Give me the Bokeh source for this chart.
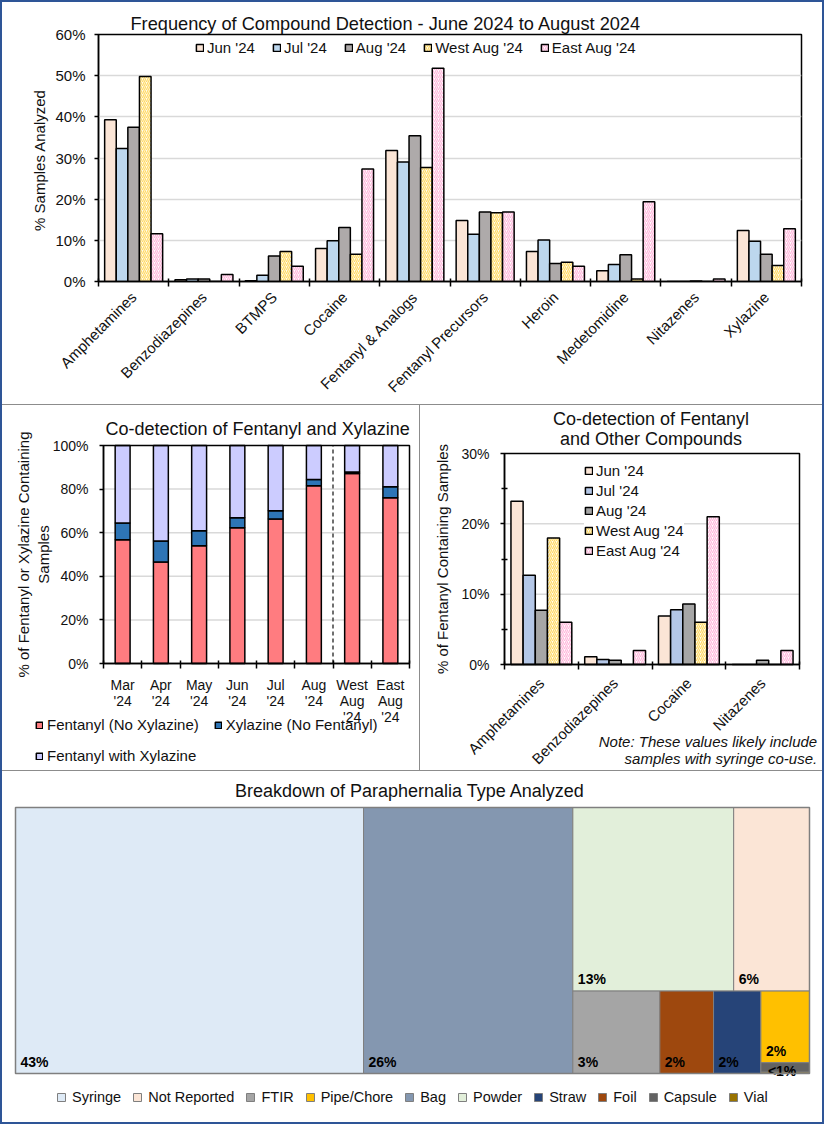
import math
from bokeh.plotting import figure
from bokeh.models import (ColumnDataSource, Range1d, FixedTicker, PrintfTickFormatter,
                          Legend, LegendItem, Label, Div, BoxAnnotation)
from bokeh.layouts import row, column
from bokeh.core.properties import value
from bokeh.embed import file_html
from bokeh.resources import INLINE

FONT = "Liberation Sans"
TXT = "#111111"

# ---------------- data ----------------
compounds = ["Amphetamines", "Benzodiazepines", "BTMPS", "Cocaine", "Fentanyl & Analogs",
             "Fentanyl Precursors", "Heroin", "Medetomidine", "Nitazenes", "Xylazine"]
series_names = ["Jun '24", "Jul '24", "Aug '24", "West Aug '24", "East Aug '24"]
freq_jun = [39.3, 0.4, 0.2, 8.0, 31.8, 14.8, 7.3, 2.6, 0.0, 12.4]
freq_jul = [32.3, 0.6, 1.5, 9.9, 29.0, 11.5, 10.1, 4.1, 0.0, 9.8]
freq_aug = [37.5, 0.6, 6.2, 13.1, 35.4, 16.9, 4.4, 6.5, 0.1, 6.6]
freq_west = [49.8, 0.0, 7.3, 6.6, 27.7, 16.7, 4.7, 0.6, 0.0, 3.9]
freq_east = [11.6, 1.7, 3.7, 27.3, 51.8, 16.9, 3.7, 19.4, 0.6, 12.8]

months = ["Mar\n'24", "Apr\n'24", "May\n'24", "Jun\n'24", "Jul\n'24", "Aug\n'24",
          "West\nAug\n'24", "East\nAug\n'24"]
fent_only = [56.8, 46.6, 54.0, 62.3, 66.3, 81.5, 87.2, 76.0]
xyl_only = [7.6, 9.6, 6.9, 4.6, 3.8, 2.9, 0.7, 5.1]
fent_xyl = [35.6, 43.8, 39.1, 33.1, 29.9, 15.6, 12.1, 18.9]
stack_names = ["Fentanyl (No Xylazine)", "Xylazine (No Fentanyl)", "Fentanyl with Xylazine"]

co_compounds = ["Amphetamines", "Benzodiazepines", "Cocaine", "Nitazenes"]
co_jun = [23.2, 1.1, 6.9, 0.0]
co_jul = [12.7, 0.7, 7.8, 0.0]
co_aug = [7.7, 0.6, 8.6, 0.6]
co_west = [18.0, 0.0, 6.0, 0.0]
co_east = [6.0, 2.0, 21.0, 2.0]
co_note = ["Note: These values likely include", "samples with syringe co-use."]

para_types = ["Syringe", "Bag", "Powder", "Not Reported", "FTIR", "Foil", "Straw",
              "Pipe/Chore", "Capsule", "Vial"]
para_share = [43.9, 26.4, 14.0, 6.6, 3.4, 2.1, 1.85, 1.65, 0.22, 0.03]
para_labels = ["43%", "26%", "13%", "6%", "3%", "2%", "2%", "2%", "<1%", ""]
para_legend_order = ["Syringe", "Not Reported", "FTIR", "Pipe/Chore", "Bag", "Powder",
                     "Straw", "Foil", "Capsule", "Vial"]

# ---------------- styles ----------------
SER_FILL = ["#FBE5D6", "#BDD7EE", "#AEAAAA", "#FFFDF0", "#FFFFFF"]
SER_FILL2 = ["#FBE5D6", "#B4C7E7", "#A6A6A6", "#FFFDF0", "#FFFFFF"]
SER_HATCH = [None, None, None, "/", "/"]
SER_HATCH_COLOR = ["black", "black", "black", "#FFD966", "#FFB7DB"]
STACK_FILL = ["#FF7C80", "#2E75B6", "#CCCCFF"]
PARA_FILL = ["#DEEAF6", "#8497B0", "#E2EFDA", "#FBE5D6", "#A5A5A5", "#9E480E", "#264478",
             "#FFC000", "#636363", "#997300"]
GRID = "#D9D9D9"
SEP = "#8C8C8C"
BLUE = "#2E5597"


class Frame:
    """Maps figure pixels to data for a frame filling the whole figure, such that the
    plot box (left, top, right, bottom in figure pixels) shows xlim x ylim."""

    def __init__(self, fig_w, fig_h, box, xlim, ylim):
        l, t, r, b = box
        self.xs = (r - l) / (xlim[1] - xlim[0])
        self.ys = (b - t) / (ylim[1] - ylim[0])
        self.x0 = xlim[0] - l / self.xs
        self.x1 = xlim[1] + (fig_w - r) / self.xs
        self.y1 = ylim[1] + t / self.ys
        self.y0 = ylim[0] - (fig_h - b) / self.ys

    def x(self, px):
        return self.x0 + px / self.xs

    def y(self, py):
        return self.y1 - py / self.ys

    def ranges(self):
        return Range1d(self.x0, self.x1), Range1d(self.y0, self.y1)


def style_axes(p):
    for ax in p.axis:
        ax.axis_line_color = "black"
        ax.axis_line_width = 1.5
        ax.major_label_text_font = FONT
        ax.major_label_text_color = TXT
        ax.axis_label_text_font = FONT
        ax.axis_label_text_font_style = "normal"
        ax.axis_label_text_color = TXT
        ax.major_tick_line_color = "black"
        ax.major_tick_line_width = 1.5
        ax.minor_tick_line_color = None


def cat_xaxis(ax, labels, angle, standoff, size):
    n = len(labels)
    ax.ticker = FixedTicker(ticks=list(range(1, n + 1)),
                            minor_ticks=[i + 0.5 for i in range(0, n + 1)])
    ax.major_label_overrides = {i + 1: lab for i, lab in enumerate(labels)}
    ax.major_label_orientation = angle
    ax.major_tick_line_color = None
    ax.major_tick_in = 0
    ax.major_tick_out = 0
    ax.minor_tick_line_color = "black"
    ax.minor_tick_line_width = 1.5
    ax.minor_tick_in = 3
    ax.minor_tick_out = 5
    ax.major_label_standoff = standoff
    ax.major_label_text_font_size = size


def pct_yaxis(ax, ticks, standoff, size, minor=None):
    ax.ticker = FixedTicker(ticks=ticks, minor_ticks=minor or [])
    ax.formatter = PrintfTickFormatter(format="%d%%")
    ax.major_tick_in = 0
    ax.major_tick_out = 4
    ax.major_label_standoff = standoff
    ax.major_label_text_font_size = size
    if minor:
        ax.minor_tick_line_color = "black"
        ax.minor_tick_line_width = 1.5
        ax.minor_tick_in = 3
        ax.minor_tick_out = 3


def grouped(p, series, fills, width=0.165):
    rs = []
    for j, vals in enumerate(series):
        xs = [i + 1 + (j - 2) * width for i in range(len(vals))]
        r = p.vbar(x=xs, top=vals, bottom=0, width=width, fill_color=fills[j],
                   line_color="black", line_width=1.5,
                   hatch_pattern=SER_HATCH[j], hatch_color=SER_HATCH_COLOR[j],
                   hatch_scale=4, hatch_weight=1.2)
        rs.append(r)
    return rs


def legend_box(items, loc, glyph, standoff, spacing, size, orientation="horizontal",
               padding=0, bg=None):
    lg = Legend(items=items, location=loc, orientation=orientation,
                glyph_width=glyph, glyph_height=glyph, label_standoff=standoff,
                spacing=spacing, padding=padding, margin=0,
                label_text_font=FONT, label_text_font_size=size, label_text_color=TXT,
                label_height=glyph, border_line_color=None)
    if bg is None:
        lg.background_fill_alpha = 0
    else:
        lg.background_fill_color = bg
        lg.background_fill_alpha = 1
    return lg


def text_label(p, x, y, text, size="18px", align="left", baseline="middle", angle=0.0,
               style="normal"):
    p.add_layout(Label(x=x, y=y, text=text, text_align=align, text_baseline=baseline,
                       angle=angle, text_font=FONT, text_font_size=size,
                       text_font_style=style, text_color=TXT))


def open_figure(w, h, fr, axes=True):
    xr, yr = fr.ranges()
    kw = {} if axes else dict(x_axis_type=None, y_axis_type=None)
    p = figure(width=w, height=h, x_range=xr, y_range=yr, output_backend="svg",
               toolbar_location=None, min_border=0, min_border_left=0, min_border_right=0,
               min_border_top=0, min_border_bottom=0, **kw)
    p.background_fill_color = "white"
    p.border_fill_color = "white"
    p.outline_line_color = None
    p.grid.visible = False
    return p


def plot_box(p, xlim, ylim, grid_vals, color="black"):
    n = len(grid_vals)
    if n:
        p.segment(x0=[xlim[0]] * n, x1=[xlim[1]] * n, y0=grid_vals, y1=grid_vals,
                  line_color=GRID, line_width=1.5, level="underlay")
    p.add_layout(BoxAnnotation(left=xlim[0], right=xlim[1], bottom=ylim[0], top=ylim[1],
                               fill_alpha=0, line_color=color, line_width=1.5,
                               line_alpha=1))


# ---------------- chart 1: frequency ----------------
p1 = figure(width=820, height=402, x_range=Range1d(0.5, len(compounds) + 0.5),
            y_range=Range1d(0, 60), output_backend="svg", toolbar_location=None,
            min_border_left=96, min_border_right=21, min_border_top=32, min_border_bottom=122)
p1.background_fill_color = "white"
p1.border_fill_color = "white"
p1.outline_line_color = "black"
p1.outline_line_width = 1.5
p1.xgrid.grid_line_color = None
p1.ygrid.grid_line_color = GRID
p1.ygrid.grid_line_width = 1.5
p1.title.text = "Frequency of Compound Detection - June 2024 to August 2024"
p1.title.text_font = FONT
p1.title.text_font_style = "normal"
p1.title.text_font_size = "18.2px"
p1.title.text_color = TXT
p1.title.align = "left"
p1.title.offset = 32
p1.title.standoff = 2
style_axes(p1)
cat_xaxis(p1.xaxis[0], compounds, math.pi / 4, 8, "15px")
pct_yaxis(p1.yaxis[0], [0, 10, 20, 30, 40, 50, 60], 9, "15px")
p1.yaxis[0].axis_label = "% Samples  Analyzed"
p1.yaxis[0].axis_label_text_font_size = "15px"
p1.yaxis[0].axis_label_standoff = 4
p1.ygrid.ticker = FixedTicker(ticks=[10, 20, 30, 40, 50])
r1 = grouped(p1, [freq_jun, freq_jul, freq_aug, freq_west, freq_east], SER_FILL)
p1.add_layout(legend_box([LegendItem(label=n, renderers=[r]) for n, r in zip(series_names, r1)],
                         (97, 225), 9, 3, 17, "15px"))

# ---------------- chart 2: stacked ----------------
X2 = (0.5, len(months) + 0.5)
Y2 = (0, 100)
F2 = Frame(417, 365, (101, 40, 407, 258), X2, Y2)
p2 = open_figure(417, 365, F2)
style_axes(p2)
cat_xaxis(p2.xaxis[0], months, "horizontal", 8, "14px")
p2.xaxis[0].major_label_text_line_height = 1.0
p2.xaxis[0].fixed_location = 0
p2.xaxis[0].bounds = X2
pct_yaxis(p2.yaxis[0], [0, 20, 40, 60, 80, 100], 11, "14px")
p2.yaxis[0].fixed_location = X2[0]
p2.yaxis[0].bounds = Y2
plot_box(p2, X2, Y2, [20, 40, 60, 80])
xs2 = list(range(1, len(months) + 1))
lvl1 = fent_only
lvl2 = [a + b for a, b in zip(fent_only, xyl_only)]
lvl3 = [a + b for a, b in zip(lvl2, fent_xyl)]
rs2 = []
for bot, top, col in zip([[0] * len(xs2), lvl1, lvl2], [lvl1, lvl2, lvl3], STACK_FILL):
    rs2.append(p2.vbar(x=xs2, bottom=bot, top=top, width=0.39, fill_color=col,
                       line_color="black", line_width=1.5))
p2.segment(x0=[6.5], x1=[6.5], y0=[Y2[0]], y1=[Y2[1]], line_color="#404040",
           line_width=1.5, line_dash="4 3")
text_label(p2, F2.x(103), F2.y(23.5), "Co-detection of Fentanyl and Xylazine")
text_label(p2, F2.x(31), (Y2[0] + Y2[1]) / 2, "% of Fentanyl or Xylazine Containing\nSamples",
           size="15px", align="center", angle=math.pi / 2)
p2.add_layout(legend_box([LegendItem(label=stack_names[0], renderers=[rs2[0]]),
                          LegendItem(label=stack_names[1], renderers=[rs2[1]])],
                         (33, 37), 8, 4, 15, "15px"))
p2.add_layout(legend_box([LegendItem(label=stack_names[2], renderers=[rs2[2]])],
                         (33, 6), 8, 4, 15, "15px"))

# ---------------- chart 3: co-detection ----------------
X3 = (0.5, len(co_compounds) + 0.5)
Y3 = (0, 30)
F3 = Frame(402, 365, (84, 48, 379, 259), X3, Y3)
p3 = open_figure(402, 365, F3)
style_axes(p3)
cat_xaxis(p3.xaxis[0], co_compounds, math.pi / 4, 11, "15px")
p3.xaxis[0].fixed_location = 0
p3.xaxis[0].bounds = X3
pct_yaxis(p3.yaxis[0], [0, 10, 20, 30], 11, "14px", minor=[5, 15, 25])
p3.yaxis[0].fixed_location = X3[0]
p3.yaxis[0].bounds = Y3
plot_box(p3, X3, Y3, [10, 20])
r3 = grouped(p3, [co_jun, co_jul, co_aug, co_west, co_east], SER_FILL2)
p3.add_layout(legend_box([LegendItem(label=n, renderers=[r]) for n, r in zip(series_names, r3)],
                         (164, 211), 9, 3, 3, "15px", orientation="vertical", padding=8,
                         bg="white"))
text_label(p3, F3.x(230.5), F3.y(13.8), "Co-detection of Fentanyl", align="center")
text_label(p3, F3.x(230.5), F3.y(33.8), "and Other Compounds", align="center")
text_label(p3, F3.x(22), (Y3[0] + Y3[1]) / 2, "% of Fentanyl Containing Samples",
           size="15px", align="center", angle=math.pi / 2)
for txt, py in zip(co_note, [336, 353]):
    text_label(p3, F3.x(396.7), F3.y(py), txt, size="15px", align="right", style="italic")

# ---------------- chart 4: treemap ----------------
tree_spec = ("h", [0, 1, ("v", [("h", [2, 3]), ("h", [4, 5, 6, ("v", [7, 8, 9])])])])


def spec_total(s):
    if isinstance(s, int):
        return para_share[s]
    return sum(spec_total(k) for k in s[1])


def slice_layout(s, x0, y0, x1, y1, out):
    if isinstance(s, int):
        out[s] = (x0, y0, x1, y1)
        return
    d, kids = s
    tot = spec_total(s)
    if d == "h":
        cx = x0
        for k in kids:
            w = (x1 - x0) * spec_total(k) / tot
            slice_layout(k, cx, y0, cx + w, y1, out)
            cx += w
    else:
        cy = y1
        for k in kids:
            h = (y1 - y0) * spec_total(k) / tot
            slice_layout(k, x0, cy - h, x1, cy, out)
            cy -= h


cells = {}
slice_layout(tree_spec, 0.0, 0.0, 1.0, 1.0, cells)
idx = list(range(len(para_types)))
src4 = ColumnDataSource(dict(
    left=[cells[i][0] for i in idx], bottom=[cells[i][1] for i in idx],
    right=[cells[i][2] for i in idx], top=[cells[i][3] for i in idx],
    color=PARA_FILL, name=para_types, label=para_labels))

F4 = Frame(820, 351, (13, 36, 807, 302), (0, 1), (0, 1))
p4 = open_figure(820, 351, F4, axes=False)
r4 = p4.quad(left="left", right="right", bottom="bottom", top="top", fill_color="color",
             line_color="#7F7F7F", line_width=1, source=src4)
plot_box(p4, (0, 1), (0, 1), [], color="#7F7F7F")
big = [i for i in idx if (cells[i][3] - cells[i][1]) * F4.ys >= 18]
small = [i for i in idx if i not in big]
p4.text(x=[cells[i][0] for i in big], y=[cells[i][1] for i in big],
        text=[para_labels[i] for i in big], x_offset=5, y_offset=-12,
        text_baseline="middle", text_font=value(FONT), text_font_style="bold",
        text_font_size="14px", text_color="black")
p4.text(x=[cells[i][0] for i in small], y=[cells[i][3] for i in small],
        text=[para_labels[i] for i in small], x_offset=7, y_offset=8,
        text_baseline="middle", text_font=value(FONT), text_font_style="bold",
        text_font_size="14px", text_color="black")
text_label(p4, F4.x(407.5), F4.y(19.8), "Breakdown of Paraphernalia Type Analyzed",
           align="center")
p4.add_layout(legend_box([LegendItem(label=n, renderers=[r4], index=para_types.index(n))
                          for n in para_legend_order], (54, 17), 10, 6, 11, "14.5px"))


# ---------------- page layout ----------------
def strip(w, h, color):
    return Div(width=w, height=h, margin=0, styles={"background-color": color})


inner = column(row(p1), strip(820, 1, SEP),
               row(column(p2), strip(1, 365, SEP), column(p3)),
               strip(820, 1, SEP), row(p4))
page = row(strip(2, 1124, BLUE), column(strip(820, 2, BLUE), inner, strip(820, 2, BLUE)),
           strip(2, 1124, BLUE))

open("out.html", "w").write(file_html(page, INLINE))
